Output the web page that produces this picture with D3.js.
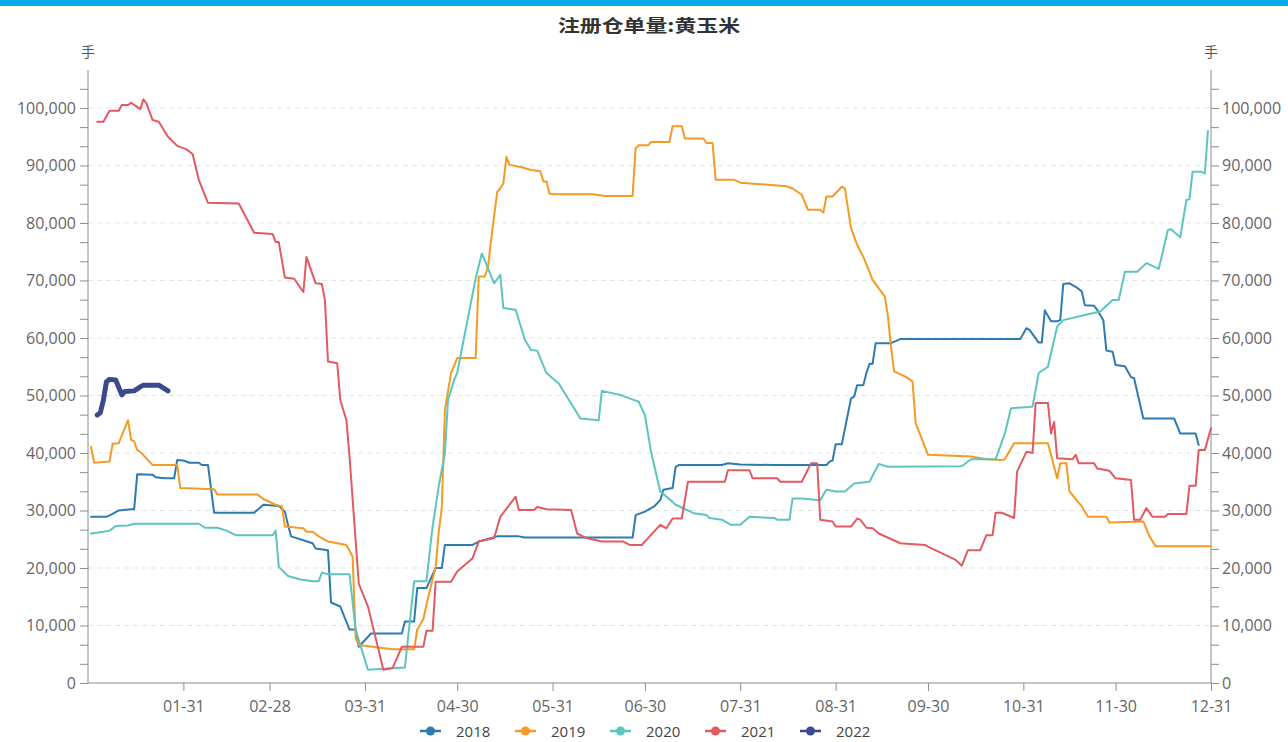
<!DOCTYPE html>
<html><head><meta charset="utf-8">
<script src="https://cdn.jsdelivr.net/npm/d3@7"></script>
<style>body{margin:0;background:#fff;overflow:hidden}</style>
</head><body><svg id="c" width="1288" height="742"></svg>
<script>
const title = "注册仓单量:黄玉米";
const unitLabel = "手";
const years = ["2018", "2019", "2020", "2021", "2022"];
const colors = ["#2c7bb1", "#f59a23", "#5cc5c0", "#e25a62", "#3b4a8e"];
const xTickDays = [31, 59, 90, 120, 151, 181, 212, 243, 273, 304, 334, 365];
const xTickLabels = ["01-31", "02-28", "03-31", "04-30", "05-31", "06-30", "07-31", "08-31", "09-30", "10-31", "11-30", "12-31"];
const yTicks = [0, 10000, 20000, 30000, 40000, 50000, 60000, 70000, 80000, 90000, 100000];

// [day of year, registered warehouse receipts]
const s2018 = [[1,28900],[6,28900],[8,29400],[10,30000],[14,30200],[15,30200],[16,36300],[21,36200],[22,35800],[25,35600],[28,35600],[29,38800],[31,38700],[33,38300],[36,38300],[37,37900],[39,37900],[41,29600],[54,29600],[57,31000],[62,30800],[64,29800],[65,27500],[66,25500],[73,24300],[74,23400],[78,23100],[79,14000],[82,13300],[85,9300],[87,9300],[88,6300],[92,8600],[102,8600],[103,10700],[106,10700],[107,16500],[110,16500],[113,20000],[115,20000],[116,24000],[125,24000],[127,24600],[133,25500],[140,25500],[142,25300],[177,25300],[178,29200],[181,29800],[184,30700],[186,31800],[187,33600],[190,33900],[191,37600],[192,37900],[206,37900],[208,38200],[212,38000],[223,37900],[240,37900],[241,38500],[242,38700],[243,41500],[245,41500],[248,49500],[249,49800],[250,51800],[252,51800],[253,53900],[254,55500],[255,55500],[256,59100],[261,59100],[264,59800],[303,59800],[305,61700],[306,61400],[309,59200],[310,59200],[311,64800],[313,62900],[315,62900],[316,63100],[317,69400],[319,69500],[321,68900],[323,68100],[324,65700],[327,65600],[328,64900],[330,63100],[331,57800],[333,57600],[334,55300],[337,55100],[339,53200],[340,53000],[343,46000],[353,46000],[355,43400],[360,43400],[361,41400]];
const s2019 = [[1,41100],[2,38300],[7,38500],[8,41600],[10,41700],[13,45700],[14,42300],[15,42000],[16,40500],[17,40200],[21,37900],[29,37900],[30,33900],[41,33700],[42,32800],[55,32800],[57,32000],[61,31000],[63,30700],[64,27200],[70,26900],[71,26300],[73,26300],[75,25500],[78,24600],[84,24000],[86,22000],[87,7800],[88,6600],[95,6150],[99,5850],[106,5850],[107,9300],[109,11100],[110,13600],[113,20200],[114,26300],[115,30500],[116,47500],[118,53900],[120,56500],[126,56500],[127,70700],[129,70700],[130,72400],[131,77000],[133,85400],[134,86000],[135,86900],[136,91500],[137,90100],[141,89700],[144,89200],[147,89000],[148,87200],[149,87200],[150,85100],[151,85000],[164,85000],[168,84700],[177,84700],[178,93000],[179,93500],[182,93500],[183,94100],[189,94100],[190,96800],[193,96800],[194,94700],[200,94700],[201,93900],[203,93900],[204,87500],[210,87500],[212,87000],[227,86400],[229,86000],[232,84900],[234,82300],[238,82300],[239,81800],[240,84600],[242,84600],[245,86300],[246,86000],[248,79100],[250,76200],[252,74100],[254,71500],[255,70100],[259,67200],[260,63700],[261,58500],[262,54200],[266,53200],[268,52400],[269,45200],[273,39700],[287,39400],[292,38900],[297,38800],[298,38900],[301,41700],[312,41700],[315,35600],[316,38200],[318,38200],[319,33300],[323,30700],[325,28900],[331,28900],[332,27900],[343,28100],[345,25500],[347,23800],[365,23800]];
const s2020 = [[1,26000],[5,26300],[7,26500],[9,27300],[13,27400],[15,27700],[36,27700],[38,27000],[42,27000],[45,26500],[48,25700],[60,25700],[61,26500],[62,20200],[65,18600],[69,18000],[73,17700],[75,17700],[76,19200],[78,18900],[85,18900],[87,9200],[91,2300],[103,2700],[106,17700],[110,17700],[111,22500],[112,27200],[114,34200],[116,40000],[117,49200],[119,52700],[120,53900],[126,70400],[128,74700],[132,69500],[134,71000],[135,65200],[139,64900],[142,59700],[144,57900],[146,57800],[149,53900],[153,52100],[159,46900],[160,46000],[166,45700],[167,50800],[173,50100],[176,49500],[179,48900],[181,46600],[183,40200],[186,33300],[190,31500],[191,31000],[197,29500],[201,29200],[202,28700],[206,28400],[209,27500],[212,27500],[215,28900],[223,28700],[224,28400],[228,28400],[229,32100],[232,32100],[238,31800],[240,33600],[243,33300],[246,33300],[249,34700],[254,35000],[257,38100],[260,37600],[284,37700],[287,38900],[295,38900],[298,43400],[300,47800],[306,48000],[307,48100],[309,53900],[312,55000],[315,62000],[317,63100],[324,64000],[329,64600],[333,66600],[335,66600],[337,71500],[341,71500],[344,73000],[348,72000],[351,78800],[352,78900],[355,77500],[357,84000],[358,84100],[359,88900],[362,88900],[363,88600],[364,96000]];
const s2021 = [[3,97600],[5,97600],[7,99500],[10,99500],[11,100500],[13,100500],[14,100900],[17,99800],[18,101500],[19,100800],[21,97900],[23,97600],[26,95000],[29,93400],[32,92800],[34,92000],[36,87500],[39,83500],[49,83400],[54,78300],[60,78100],[61,76700],[62,76700],[64,70500],[67,70300],[70,68000],[71,74100],[74,69500],[76,69400],[77,66600],[78,55900],[81,55600],[82,49200],[84,45700],[85,39400],[88,17300],[91,13300],[96,2300],[99,2600],[102,6300],[109,6300],[110,9100],[112,9100],[113,17600],[118,17600],[120,19400],[125,21700],[127,24600],[132,25200],[134,28900],[139,32400],[140,30100],[145,30100],[146,30600],[149,30200],[157,30100],[159,26000],[162,25200],[167,24600],[174,24600],[176,24000],[180,24000],[182,25200],[186,27500],[188,26900],[190,28600],[193,28600],[195,35000],[207,35000],[208,37000],[215,37000],[216,35600],[224,35600],[225,35000],[232,35000],[235,38200],[237,38200],[238,28400],[242,28100],[243,27200],[248,27200],[250,28600],[251,28400],[253,27000],[255,26900],[257,26000],[264,24300],[272,24000],[273,23700],[282,21400],[284,20400],[286,23100],[290,23100],[292,25700],[294,25700],[295,29600],[297,29600],[301,28700],[302,36800],[305,40200],[307,40000],[308,48700],[312,48700],[313,43400],[314,45400],[315,39100],[320,38900],[321,39700],[322,38200],[327,38200],[328,37300],[332,36900],[334,35600],[339,35300],[340,28400],[342,28400],[344,30400],[346,28900],[350,28900],[351,29400],[357,29400],[358,34300],[360,34300],[361,40500],[363,40500],[365,44300]];
const s2022 = [[3,46600],[4,47000],[5,49200],[6,52400],[7,52800],[9,52700],[11,50100],[12,50700],[15,50800],[17,51500],[18,51800],[23,51800],[26,50800]];
const seriesData = [s2018, s2019, s2020, s2021, s2022];
const lineWidths = [2, 2, 2, 2, 5];

const svg = d3.select("#c");
const L = 88, R = 1211, T = 70, B = 683;
const x = d3.scaleLinear().domain([0, 365]).range([L, R]);
const y = d3.scaleLinear().domain([0, 106600]).range([B, T]);
const fmt = d3.format(",");
const axisColor = "#8c8c8c", labelColor = "#666";
const tickFont = "'Open Sans', sans-serif";

// top bar
svg.append("rect").attr("x", 0).attr("y", 0).attr("width", 1288).attr("height", 6).attr("fill", "#00a9e8");

// title
svg.append("text").attr("x", 649).attr("y", 32).attr("text-anchor", "middle")
  .attr("font-family", "'Noto Sans CJK SC', sans-serif").attr("font-weight", "bold")
  .attr("font-size", 17).attr("fill", "#333")
  .attr("textLength", 182).attr("lengthAdjust", "spacingAndGlyphs").text(title);

// units
[L, R].forEach(px => svg.append("text").attr("x", px).attr("y", 57).attr("text-anchor", "middle")
  .attr("font-family", "'Noto Sans CJK SC', sans-serif").attr("font-size", 14).attr("fill", "#555").text(unitLabel));

// grid
svg.append("g").selectAll("line").data(yTicks.filter(d => d > 0)).join("line")
  .attr("x1", L).attr("x2", R).attr("y1", d => y(d)).attr("y2", d => y(d))
  .attr("stroke", "#e3e3e3").attr("stroke-dasharray", "5,4");

const minor = d3.range(0, 106000, 10000 / 3);
const gl = svg.append("g").attr("transform", `translate(${L},0)`)
  .call(d3.axisLeft(y).tickValues(minor).tickSize(8).tickFormat(""));
const gr = svg.append("g").attr("transform", `translate(${R},0)`)
  .call(d3.axisRight(y).tickValues(minor).tickSize(8).tickFormat(""));
[gl, gr].forEach(g => {
  g.select(".domain").attr("stroke", axisColor).attr("d", `M0,${T}V${B}`);
  g.selectAll(".tick line").attr("stroke", axisColor);
});
svg.append("g").selectAll("text").data(yTicks).join("text")
  .attr("x", L - 12).attr("y", d => y(d)).attr("dy", "0.35em").attr("text-anchor", "end")
  .attr("font-family", tickFont).attr("font-size", 16).attr("fill", labelColor).text(d => fmt(d));
svg.append("g").selectAll("text").data(yTicks).join("text")
  .attr("x", R + 11).attr("y", d => y(d)).attr("dy", "0.35em").attr("text-anchor", "start")
  .attr("font-family", tickFont).attr("font-size", 16).attr("fill", labelColor).text(d => fmt(d));

// x axis
const gx = svg.append("g").attr("transform", `translate(0,${B})`)
  .call(d3.axisBottom(x).tickValues(xTickDays).tickSize(8).tickFormat((d, i) => xTickLabels[i]));
gx.select(".domain").attr("stroke", axisColor).attr("d", `M${L},0H${R}`);
gx.selectAll(".tick line").attr("stroke", axisColor);
gx.selectAll(".tick text").attr("font-family", tickFont).attr("font-size", 16).attr("fill", labelColor).attr("dy", "1.15em");

// lines
const line = d3.line().x(d => x(d[0])).y(d => y(d[1]));
seriesData.forEach((s, i) => {
  svg.append("path").datum(s).attr("d", line).attr("fill", "none")
    .attr("stroke", colors[i]).attr("stroke-width", lineWidths[i])
    .attr("stroke-linejoin", "round").attr("stroke-linecap", "round");
});

// legend
const lg = svg.append("g").selectAll("g").data(years).join("g")
  .attr("transform", (d, i) => `translate(${420 + i * 95},731)`);
lg.append("line").attr("x1", 0).attr("x2", 21).attr("stroke", (d, i) => colors[i]).attr("stroke-width", 2.5);
lg.append("circle").attr("cx", 10.5).attr("r", 4.5).attr("fill", (d, i) => colors[i]);
lg.append("text").attr("x", 36).attr("y", 5.5).attr("font-family", tickFont)
  .attr("font-size", 15).attr("fill", "#444").text(d => d);
</script></body></html>
